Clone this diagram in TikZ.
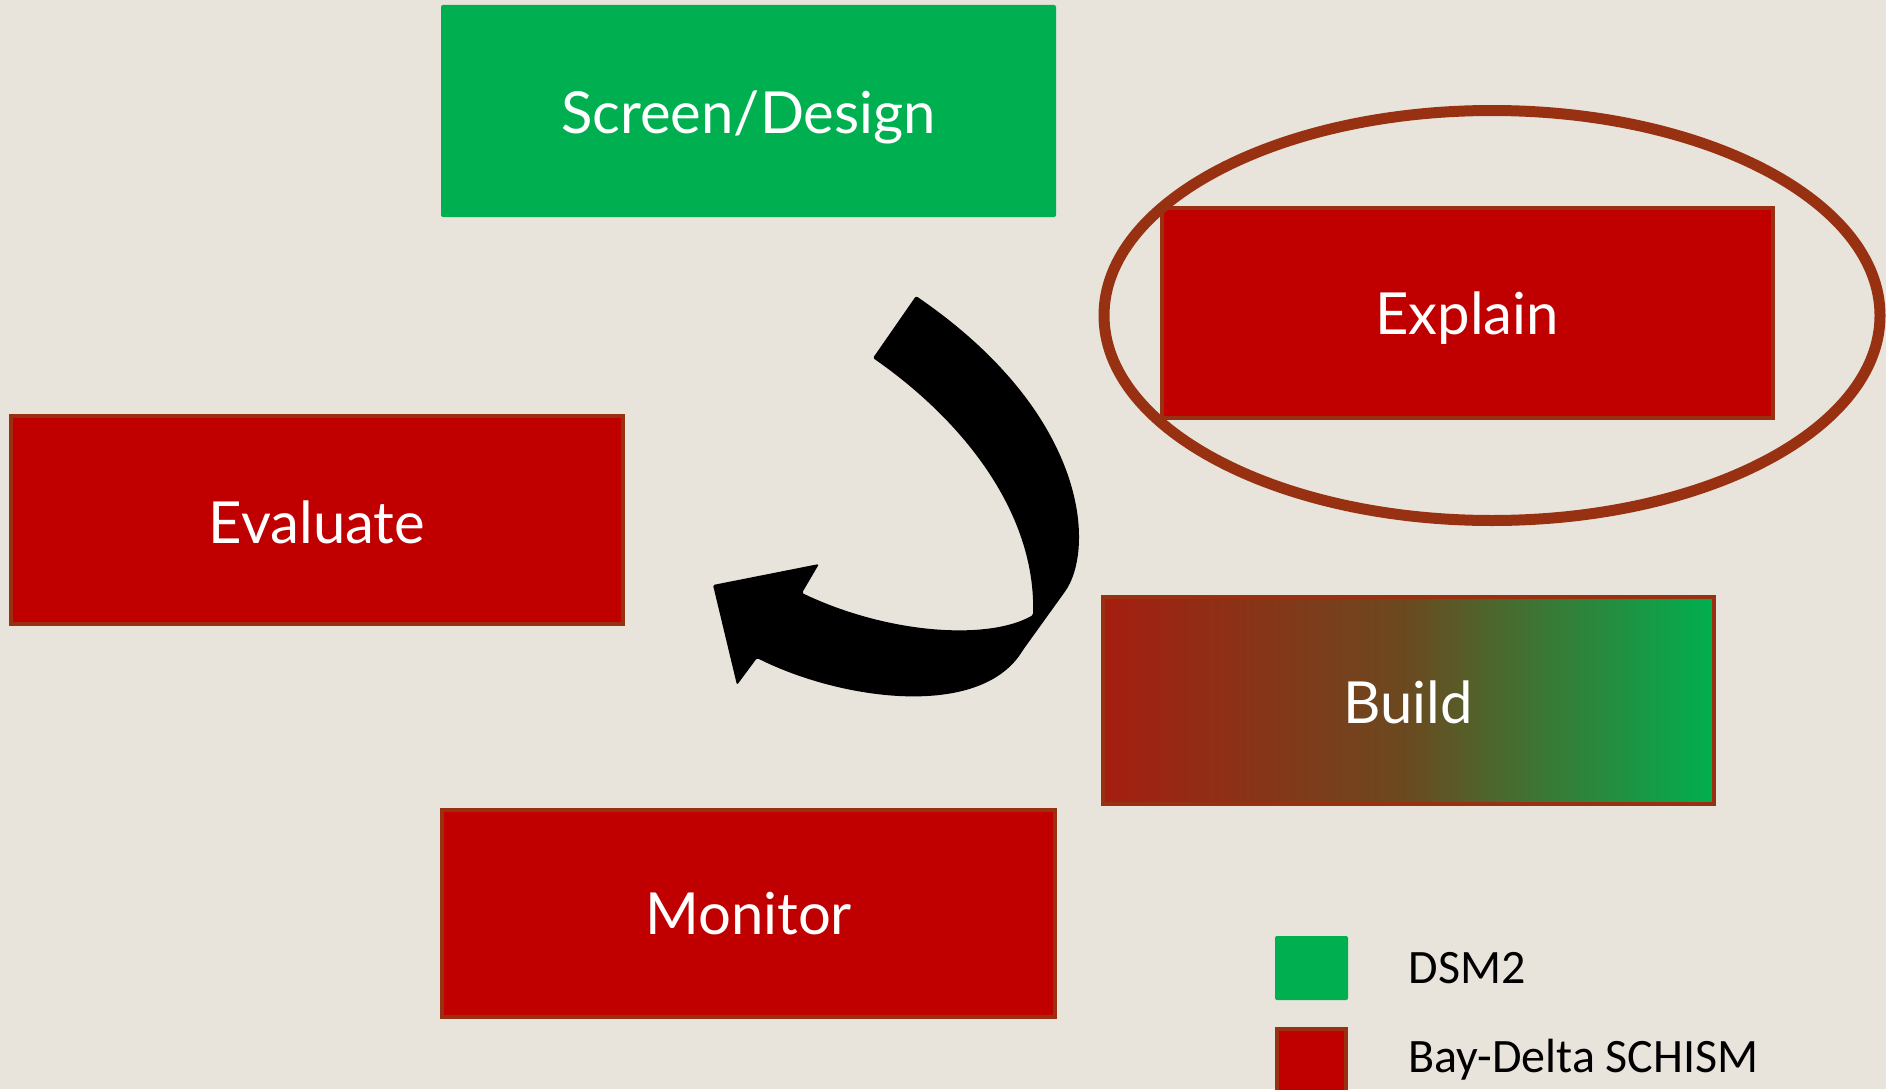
\documentclass[tikz,border=0pt]{standalone}
\usepackage{fontspec}
\setmainfont{Lato}
\newfontfamily\legendfont{Carlito}
\definecolor{bg}{HTML}{E8E4DC}
\definecolor{boxred}{HTML}{C00000}
\definecolor{boxgreen}{HTML}{00B050}
\definecolor{rim}{HTML}{983111}
\definecolor{buildleft}{HTML}{A51E10}
\definecolor{buildmid}{HTML}{6A4A20}
\tikzset{
  boxtext/.style={text=white, font=\fontsize{58}{70}\selectfont},
  redbox/.style={fill=boxred, draw=rim, line width=4pt},
  greenbox/.style={fill=boxgreen},
  legtext/.style={anchor=west, text=black, font=\legendfont\fontsize{48}{58}\selectfont},
}
\begin{document}
\begin{tikzpicture}[x=1pt,y=-1pt]
\fill[bg] (0,0) rectangle (1886,1089);
\useasboundingbox (0,0) rectangle (1886,1089);

% boxes
\fill[greenbox, rounded corners=2pt] (441,5) rectangle (1056,217);
\node[boxtext] (screen) at (748.5,117) {Screen/Design};

\draw[redbox] (1162,208) rectangle (1773,418);
\node[boxtext] (explain) at (1467,318) {Explain};

\draw[redbox] (11,416) rectangle (623,624);
\node[boxtext] (evaluate) at (317,522) {Evaluate};

\shade[left color=buildleft, right color=boxgreen, middle color=buildmid] (1103,597) rectangle (1714,804);
\draw[draw=rim, line width=4pt] (1103,597) rectangle (1714,804);
\node[boxtext] (build) at (1408,702) {Build};

\draw[redbox] (442,810) rectangle (1055,1017);
\node[boxtext] (monitor) at (748.5,914) {Monitor};

% ellipse
\draw[rim, line width=11pt] (1492,315.5) ellipse [x radius=388, y radius=205];

% curved arrow
\fill[black, rounded corners=1.5pt] (873,358) .. controls (972,427) and (1036,520) .. (1033,615)
  .. controls (990,640) and (890,635) .. (802,593)
  -- (819,564) -- (713,585) -- (737,685) -- (757,658)
  .. controls (840,700) and (980,720) .. (1023,650)
  -- (1064,593)
  .. controls (1095,550) and (1090,415) .. (916,296) -- cycle;

% legend
\fill[boxgreen, rounded corners=2pt] (1275,936) rectangle (1348,1000);
\node[legtext] (dsm) at (1405,968) {DSM2};
\draw[fill=boxred, draw=rim, line width=4pt] (1277,1029) rectangle (1346,1095);
\node[legtext] (schism) at (1405,1060) {Bay-Delta SCHISM};
\end{tikzpicture}
\end{document}
